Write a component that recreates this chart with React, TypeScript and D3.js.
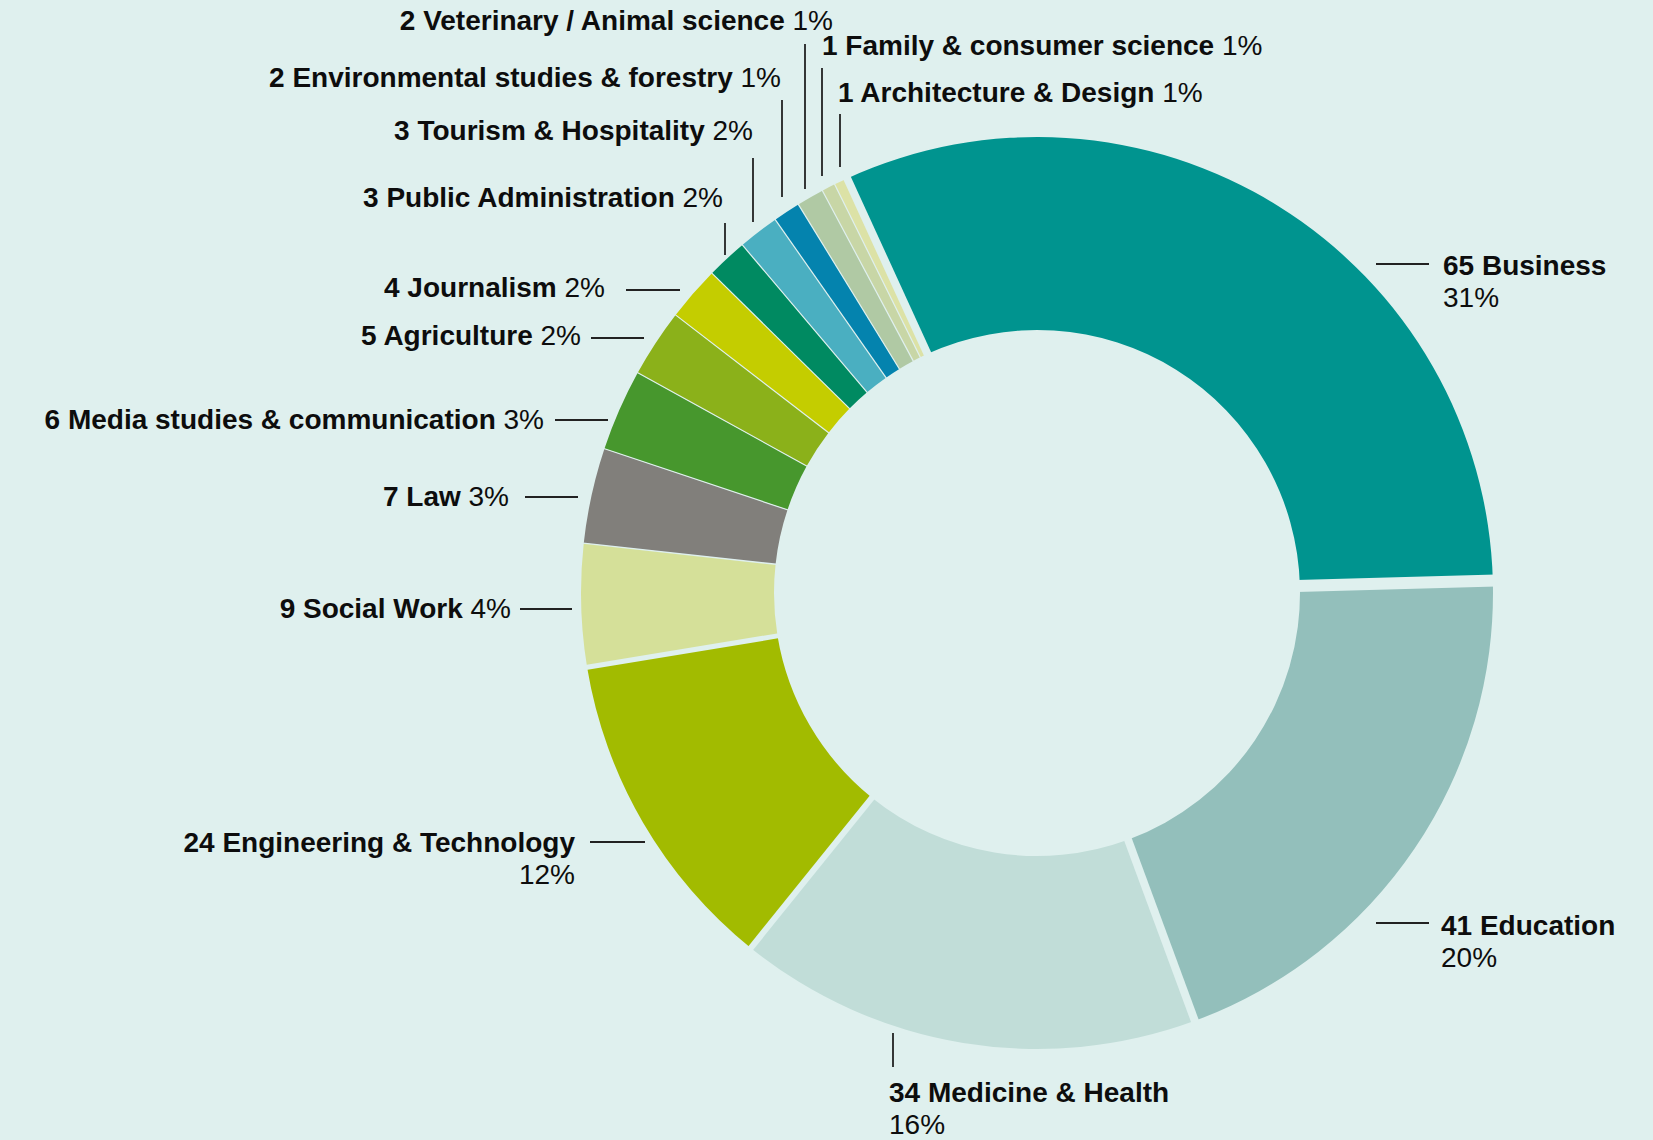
import React from 'react';
import * as d3 from 'd3';

const categories: string[] = [
  'Business',
  'Education',
  'Medicine & Health',
  'Engineering & Technology',
  'Social Work',
  'Law',
  'Media studies & communication',
  'Agriculture',
  'Journalism',
  'Public Administration',
  'Tourism & Hospitality',
  'Environmental studies & forestry',
  'Veterinary / Animal science',
  'Family & consumer science',
  'Architecture & Design',
];
const counts: number[] = [65, 41, 34, 24, 9, 7, 6, 5, 4, 3, 3, 2, 2, 1, 1];
const percents: number[] = [31, 20, 16, 12, 4, 3, 3, 2, 2, 2, 2, 1, 1, 1, 1];

// styles (separate from data)
const sliceColors: string[] = [
  '#00948f', '#93bfbb', '#c1ddd8', '#a2bb00', '#d5e099', '#817f7b', '#47972d',
  '#8bb11a', '#c4cd00', '#008a61', '#4aafc1', '#0483ae', '#b0c9a4', '#c8d6a6', '#dce2a6',
];
// gap width (px) after each slice (between slice i and i+1)
const gapAfter: number[] = [12, 8, 6, 5, 1.5, 1.2, 1.2, 1.2, 1.2, 1.2, 1.2, 1.2, 1.2, 1.2, 8];

type LabelLayout = {
  tx: number; ty: number; anchor: 'start' | 'end'; twoLines: boolean;
  line: [number, number, number, number];
};
const labelLayout: LabelLayout[] = [
  { tx: 1443, ty: 266, anchor: 'start', twoLines: true, line: [1376, 264, 1429, 264] },
  { tx: 1441, ty: 926, anchor: 'start', twoLines: true, line: [1376, 923, 1429, 923] },
  { tx: 889, ty: 1093, anchor: 'start', twoLines: true, line: [893, 1033, 893, 1067] },
  { tx: 575, ty: 843, anchor: 'end', twoLines: true, line: [590, 842, 645, 842] },
  { tx: 511, ty: 609, anchor: 'end', twoLines: false, line: [520, 609, 572, 609] },
  { tx: 509, ty: 497, anchor: 'end', twoLines: false, line: [525, 497, 578, 497] },
  { tx: 544, ty: 420, anchor: 'end', twoLines: false, line: [555, 420, 608, 420] },
  { tx: 581, ty: 336, anchor: 'end', twoLines: false, line: [591, 338, 644, 338] },
  { tx: 605, ty: 288, anchor: 'end', twoLines: false, line: [626, 290, 680, 290] },
  { tx: 723, ty: 198, anchor: 'end', twoLines: false, line: [725, 223, 725, 255] },
  { tx: 753, ty: 131, anchor: 'end', twoLines: false, line: [753, 158, 753, 222] },
  { tx: 781, ty: 78, anchor: 'end', twoLines: false, line: [782, 100, 782, 197] },
  { tx: 833, ty: 21, anchor: 'end', twoLines: false, line: [805, 44, 805, 189] },
  { tx: 822, ty: 46, anchor: 'start', twoLines: false, line: [822, 68, 822, 176] },
  { tx: 838, ty: 93, anchor: 'start', twoLines: false, line: [840, 114, 840, 167] },
];

const W = 1653;
const H = 1140;
const CX = 1037;
const CY = 593;
const R_OUT = 456;
const R_IN = 263;
const START_DEG = -24.6;
const BG = '#dff0ee';
const FONT = '"Liberation Sans", Arial, Helvetica, sans-serif';
const FS = 28;
const LINE_GAP = 32;

export default function App() {
  const data = categories.map((c, i) => ({ name: c, value: counts[i], pct: percents[i], i }));
  const start = (START_DEG * Math.PI) / 180;
  const pie = d3
    .pie<typeof data[number]>()
    .sort(null)
    .value((d) => d.value)
    .startAngle(start)
    .endAngle(start + 2 * Math.PI);
  const arcs = pie(data);
  const arcGen = d3
    .arc<d3.PieArcDatum<typeof data[number]>>()
    .innerRadius(R_IN)
    .outerRadius(R_OUT);

  const baseOff = 26 * 0.358;

  return (
    <svg
      width={W}
      height={H}
      style={{ position: 'absolute', left: 0, top: 0, background: BG }}
    >
      <rect x={0} y={0} width={W} height={H} fill={BG} />
      <g transform={`translate(${CX},${CY})`}>
        {arcs.map((a) => (
          <path key={a.data.name} d={arcGen(a) || ''} fill={sliceColors[a.data.i]} />
        ))}
        {arcs.map((a) => {
          const ang = a.endAngle;
          const r0 = R_IN - 3;
          const r1 = R_OUT + 3;
          return (
            <line
              key={'g' + a.data.name}
              x1={r0 * Math.sin(ang)}
              y1={-r0 * Math.cos(ang)}
              x2={r1 * Math.sin(ang)}
              y2={-r1 * Math.cos(ang)}
              stroke={BG}
              strokeWidth={gapAfter[a.data.i]}
            />
          );
        })}
      </g>
      <g fontFamily={FONT} fontSize={FS} fill="#0d0d0d">
        {data.map((d, i) => {
          const L = labelLayout[i];
          return (
            <g key={'l' + d.name}>
              <line
                x1={L.line[0]}
                y1={L.line[1]}
                x2={L.line[2]}
                y2={L.line[3]}
                stroke="#222"
                strokeWidth={1.8}
              />
              {L.twoLines ? (
                <text x={L.tx} y={L.ty + baseOff} textAnchor={L.anchor}>
                  <tspan fontWeight="bold">{`${d.value} ${d.name}`}</tspan>
                  <tspan x={L.tx} dy={LINE_GAP}>{`${d.pct}%`}</tspan>
                </text>
              ) : (
                <text x={L.tx} y={L.ty + baseOff} textAnchor={L.anchor}>
                  <tspan fontWeight="bold">{`${d.value} ${d.name}`}</tspan>
                  <tspan>{` ${d.pct}%`}</tspan>
                </text>
              )}
            </g>
          );
        })}
      </g>
    </svg>
  );
}
